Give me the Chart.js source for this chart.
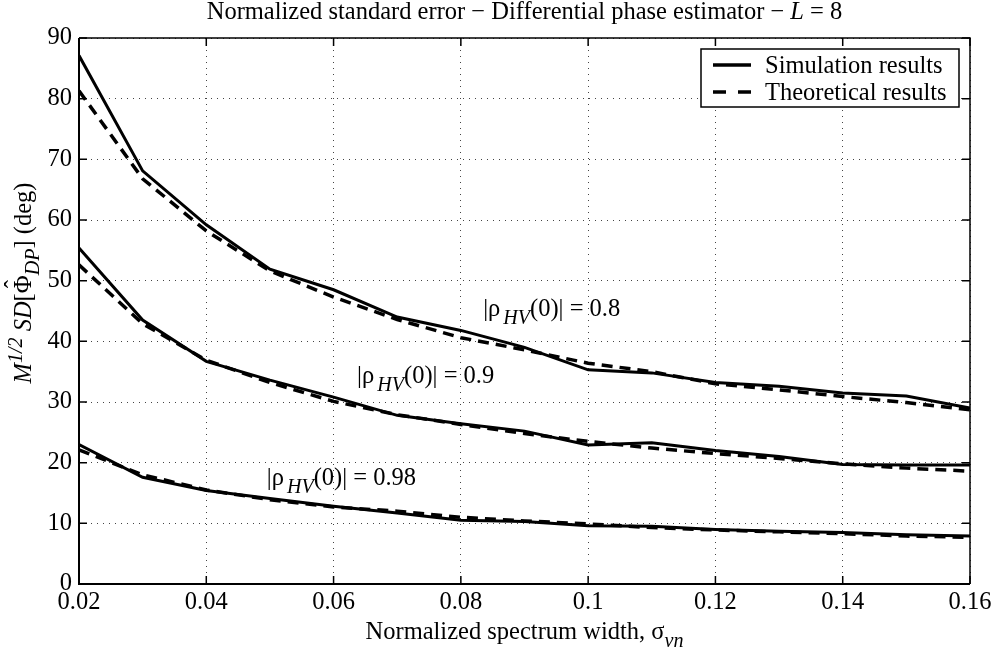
<!DOCTYPE html>
<html>
<head>
<meta charset="utf-8">
<script src="https://cdn.jsdelivr.net/npm/chart.js@4.4.1/dist/chart.umd.min.js"></script>
<style>
  html, body { margin: 0; padding: 0; background: #fff; }
  canvas { display: block; }
</style>
</head>
<body>
<canvas id="chart" width="999" height="657"></canvas>
<script>
// ── Data ──
const widths = [0.02, 0.03, 0.04, 0.05, 0.06, 0.07, 0.08, 0.09, 0.10, 0.11, 0.12, 0.13, 0.14, 0.15, 0.16]

const sim08  = [87.1, 68.1, 59.2, 51.9, 48.5, 44.0, 41.8, 39.0, 35.3, 34.8, 33.2, 32.6, 31.5, 31.0, 29.0]
const theo08 = [81.3, 66.8, 58.2, 51.6, 47.3, 43.6, 40.6, 38.6, 36.4, 35.0, 33.0, 32.0, 30.9, 29.9, 28.7]

const sim09  = [55.4, 43.5, 36.7, 33.6, 30.8, 27.8, 26.4, 25.2, 22.9, 23.3, 22.0, 21.0, 19.7, 19.6, 19.6]
const theo09 = [52.6, 42.9, 36.9, 33.2, 30.1, 27.9, 26.3, 24.8, 23.5, 22.4, 21.5, 20.7, 19.8, 19.1, 18.6]

const sim098  = [23.0, 17.6, 15.4, 14.1, 12.8, 11.7, 10.5, 10.3, 9.6, 9.5, 9.0, 8.7, 8.5, 8.1, 7.9]
const theo098 = [22.1, 18.0, 15.5, 13.9, 12.7, 12.0, 11.0, 10.4, 9.9, 9.3, 8.9, 8.6, 8.3, 7.9, 7.7]

const xTicks = [0.02, 0.04, 0.06, 0.08, 0.1, 0.12, 0.14, 0.16]
const yTicks = [0, 10, 20, 30, 40, 50, 60, 70, 80, 90]

const rhoLabels = ['0.8', '0.9', '0.98']

// ── Look ──
const FONT = "'Liberation Serif', 'Times New Roman', serif"
const SIZE = 24.5
const DASH = [11, 7]

Chart.defaults.font.family = FONT
Chart.defaults.font.size = SIZE
Chart.defaults.color = '#000'

const pts = ys => widths.map((x, i) => ({ x, y: ys[i] }))
const solid = ys => ({ data: pts(ys), borderColor: '#000', borderWidth: 3, pointRadius: 0, tension: 0, fill: false })
const dashed = ys => ({ data: pts(ys), borderColor: '#000', borderWidth: 3.5, borderDash: DASH, pointRadius: 0, tension: 0, fill: false })

// rich text helpers (italic, sub/superscripts)
function fontOf(r) {
  const small = r.sub || r.sup
  return (r.it ? 'italic ' : '') + (small ? SIZE * 0.82 : SIZE).toFixed(1) + 'px ' + FONT
}
function runsWidth(ctx, runs) {
  return runs.reduce((w, r) => { ctx.font = fontOf(r); return w + ctx.measureText(r.t).width + (r.gap || 0) }, 0)
}
function drawRuns(ctx, runs, x, y, align) {
  let cx = align === 'center' ? x - runsWidth(ctx, runs) / 2 : x
  runs.forEach(r => {
    ctx.font = fontOf(r)
    const dy = r.sub ? 8 : r.sup ? -9 : 0
    ctx.fillText(r.t, cx, y + dy)
    const w = ctx.measureText(r.t).width
    if (r.hat) {
      ctx.textAlign = 'center'
      ctx.fillText('ˆ', cx + w / 2, y - 9)
      ctx.textAlign = 'left'
    }
    cx += w + (r.gap || 0)
  })
}

// annotation anchors (data coords, left/baseline)
const notes = [
  { x: 0.0835, y: 44.2 },
  { x: 0.0637, y: 33.1 },
  { x: 0.0495, y: 16.3 },
]

const decor = {
  id: 'decor',
  afterDraw(chart) {
    const { ctx, chartArea: a, scales: { x, y } } = chart
    ctx.save()
    ctx.fillStyle = '#000'
    ctx.strokeStyle = '#000'
    ctx.textBaseline = 'alphabetic'
    ctx.textAlign = 'left'
    ctx.setLineDash([])

    // box + inward ticks
    ctx.lineWidth = 1.5
    ctx.beginPath()
    ctx.moveTo(a.left, a.top); ctx.lineTo(a.right, a.top); ctx.lineTo(a.right, a.bottom)
    ctx.stroke()
    ctx.lineWidth = 2
    ctx.beginPath()
    ctx.moveTo(a.left, a.top); ctx.lineTo(a.left, a.bottom); ctx.lineTo(a.right, a.bottom)
    ctx.stroke()
    ctx.lineWidth = 1.5
    ctx.beginPath()
    xTicks.forEach(v => {
      const px = x.getPixelForValue(v)
      ctx.moveTo(px, a.bottom); ctx.lineTo(px, a.bottom - 8)
      ctx.moveTo(px, a.top); ctx.lineTo(px, a.top + 8)
    })
    yTicks.forEach(v => {
      const py = y.getPixelForValue(v)
      ctx.moveTo(a.left, py); ctx.lineTo(a.left + 8, py)
      ctx.moveTo(a.right, py); ctx.lineTo(a.right - 8, py)
    })
    ctx.stroke()

    // curve labels
    notes.forEach((n, i) => {
      drawRuns(ctx, [
        { t: '|ρ', gap: 3 },
        { t: 'HV', it: true, sub: true },
        { t: '(0)| = ' + rhoLabels[i] },
      ], x.getPixelForValue(n.x), y.getPixelForValue(n.y), 'left')
    })

    // legend
    const bx = a.right - 269, by = a.top + 11, bw = 258, bh = 58
    ctx.fillStyle = '#fff'
    ctx.fillRect(bx, by, bw, bh)
    ctx.fillStyle = '#000'
    ctx.lineWidth = 1.5
    ctx.strokeRect(bx, by, bw, bh)
    ctx.lineWidth = 3.5
    ctx.beginPath(); ctx.moveTo(bx + 12, by + 16); ctx.lineTo(bx + 50, by + 16); ctx.stroke()
    ctx.setLineDash([13, 12])
    ctx.beginPath(); ctx.moveTo(bx + 12, by + 43); ctx.lineTo(bx + 50, by + 43); ctx.stroke()
    ctx.setLineDash([])
    ctx.font = SIZE + 'px ' + FONT
    ctx.fillText('Simulation results', bx + 64, by + 24)
    ctx.fillText('Theoretical results', bx + 64, by + 51)

    // titles
    const cx = (a.left + a.right) / 2
    drawRuns(ctx, [
      { t: 'Normalized standard error − Differential phase estimator − ' },
      { t: 'L', it: true },
      { t: ' = 8' },
    ], cx, 19, 'center')

    drawRuns(ctx, [
      { t: 'Normalized spectrum width, σ' },
      { t: 'vn', it: true, sub: true },
    ], cx, 639, 'center')

    ctx.translate(31, 283)
    ctx.rotate(-Math.PI / 2)
    drawRuns(ctx, [
      { t: 'M', it: true },
      { t: '1/2', it: true, sup: true, gap: 6 },
      { t: 'SD', it: true },
      { t: '[' },
      { t: 'Φ', hat: true },
      { t: 'DP', it: true, sub: true },
      { t: '] (deg)' },
    ], 0, 0, 'center')
    ctx.restore()
  }
}

new Chart(document.getElementById('chart'), {
  type: 'line',
  data: {
    datasets: [
      dashed(theo08), solid(sim08),
      dashed(theo09), solid(sim09),
      dashed(theo098), solid(sim098),
    ]
  },
  options: {
    responsive: false,
    animation: false,
    layout: { padding: { top: 38, right: 29, left: 0, bottom: 0 } },
    plugins: { legend: { display: false }, tooltip: { enabled: false } },
    scales: {
      x: {
        type: 'linear', min: 0.02, max: 0.16,
        afterBuildTicks: s => { s.ticks = xTicks.map(value => ({ value })) },
        afterFit: s => { s.height = 73; s.paddingLeft = 0; s.paddingRight = 0 },
        ticks: { padding: 4, maxRotation: 0, callback: v => String(+v.toFixed(2)) },
        grid: { color: '#444', lineWidth: 1, drawTicks: false },
        border: { display: false, dash: [1, 5] },
      },
      y: {
        min: 0, max: 90,
        afterBuildTicks: s => { s.ticks = yTicks.map(value => ({ value })) },
        afterFit: s => { s.width = 79; s.paddingTop = 0; s.paddingBottom = 0 },
        ticks: { padding: 7 },
        grid: { color: '#444', lineWidth: 1, drawTicks: false },
        border: { display: false, dash: [1, 5] },
      }
    }
  },
  plugins: [decor]
})
</script>
</body>
</html>
